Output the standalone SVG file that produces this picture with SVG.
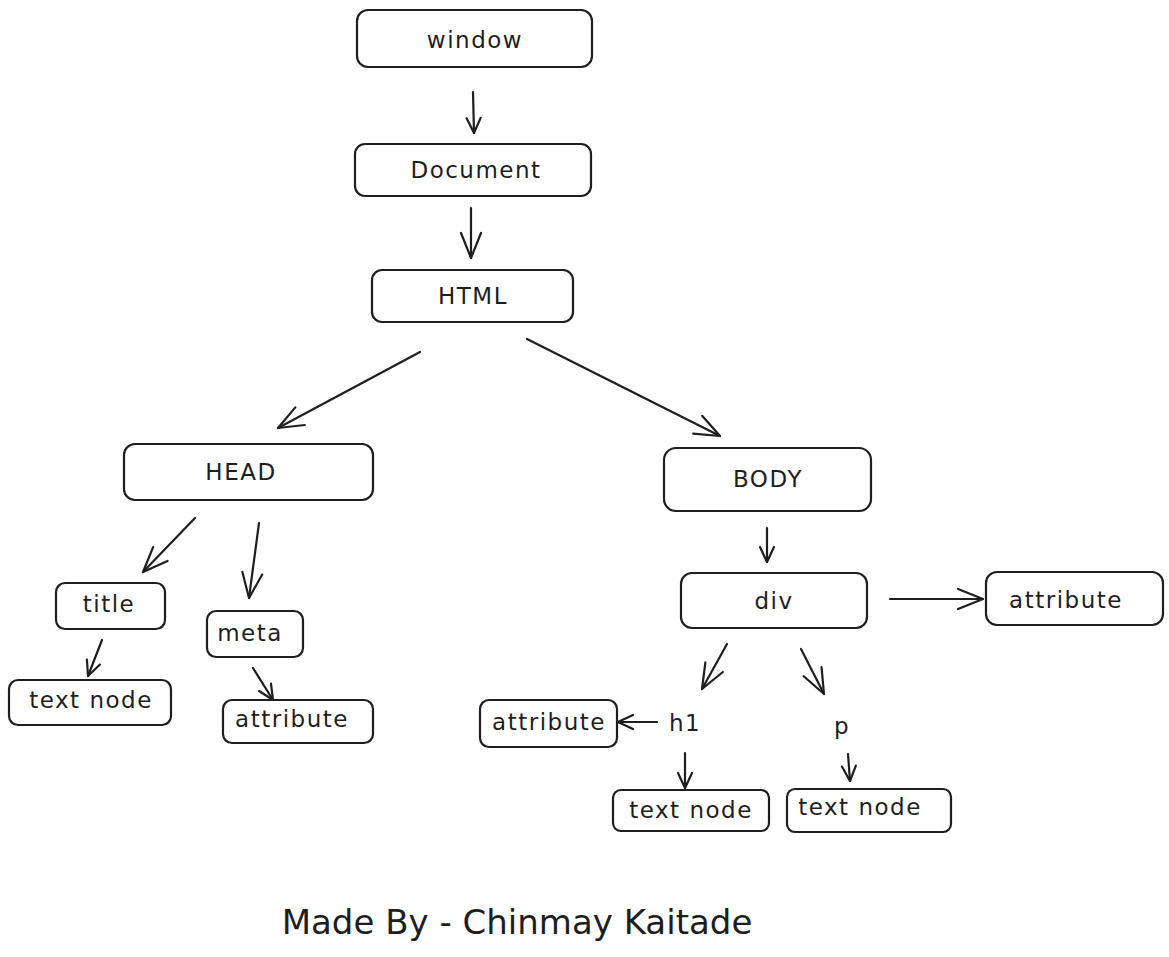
<svg xmlns="http://www.w3.org/2000/svg" width="1169" height="957" viewBox="0 0 1169 957">
<defs>
<style>
.box{fill:#fff;stroke:#1e1e1e;stroke-width:2.2;}
.t{font-family:"DejaVu Sans",sans-serif;font-size:23px;letter-spacing:1.5px;fill:#1e1e1e;text-anchor:middle;dominant-baseline:central;}
.c{stroke:#1e1e1e;stroke-width:2.2;fill:none;stroke-linecap:round;}
</style>
<marker id="ah" viewBox="0 0 20 20" refX="18" refY="10" markerWidth="20" markerHeight="20" markerUnits="userSpaceOnUse" orient="auto">
<path d="M3,3 L18,10 L3,17" fill="none" stroke="#1e1e1e" stroke-width="2.2" stroke-linecap="round" stroke-linejoin="round"/>
</marker>
<marker id="ahL" viewBox="0 0 30 30" refX="28" refY="15" markerWidth="30" markerHeight="30" markerUnits="userSpaceOnUse" orient="auto">
<path d="M3,5 L28,15 L3,25" fill="none" stroke="#1e1e1e" stroke-width="2.2" stroke-linecap="round" stroke-linejoin="round"/>
</marker>
</defs>
<rect width="1169" height="957" fill="#fff"/>

<g id="connectors">
<line class="c" x1="473" y1="92" x2="474" y2="133" marker-end="url(#ah)"/>
<line class="c" x1="471" y1="208" x2="471" y2="258" marker-end="url(#ahL)"/>
<line class="c" x1="420" y1="352" x2="278" y2="428" marker-end="url(#ahL)"/>
<line class="c" x1="527" y1="339" x2="720" y2="436" marker-end="url(#ahL)"/>
<line class="c" x1="195" y1="518" x2="143" y2="572" marker-end="url(#ahL)"/>
<line class="c" x1="259" y1="523" x2="249" y2="598" marker-end="url(#ahL)"/>
<line class="c" x1="102" y1="640" x2="88" y2="676" marker-end="url(#ah)"/>
<line class="c" x1="253" y1="668" x2="273" y2="700" marker-end="url(#ah)"/>
<line class="c" x1="767" y1="528" x2="767" y2="562" marker-end="url(#ah)"/>
<line class="c" x1="890" y1="599" x2="983" y2="599" marker-end="url(#ahL)"/>
<line class="c" x1="727" y1="644" x2="702" y2="689" marker-end="url(#ahL)"/>
<line class="c" x1="801" y1="649" x2="824" y2="694" marker-end="url(#ahL)"/>
<line class="c" x1="657" y1="722" x2="618" y2="722" marker-end="url(#ah)"/>
<line class="c" x1="685" y1="753" x2="685" y2="788" marker-end="url(#ah)"/>
<line class="c" x1="848" y1="754" x2="850" y2="781" marker-end="url(#ah)"/>
</g>

<g id="window"><rect class="box" x="357" y="10" width="235" height="57" rx="11"/><text class="t" x="475" y="40">window</text></g>
<g id="document"><rect class="box" x="355" y="144" width="236" height="52" rx="10"/><text class="t" x="476" y="170">Document</text></g>
<g id="html"><rect class="box" x="372" y="270" width="201" height="52" rx="10"/><text class="t" x="473" y="296">HTML</text></g>
<g id="head"><rect class="box" x="124" y="444" width="249" height="56" rx="11"/><text class="t" x="241" y="472">HEAD</text></g>
<g id="body"><rect class="box" x="664" y="448" width="207" height="63" rx="12"/><text class="t" x="768" y="479">BODY</text></g>
<g id="title"><rect class="box" x="56" y="583" width="109" height="46" rx="9"/><text class="t" x="109" y="604">title</text></g>
<g id="meta"><rect class="box" x="207" y="611" width="96" height="46" rx="9"/><text class="t" x="250" y="633">meta</text></g>
<g id="title-text"><rect class="box" x="9" y="680" width="162" height="45" rx="9"/><text class="t" x="91" y="700">text node</text></g>
<g id="meta-attribute"><rect class="box" x="223" y="700" width="150" height="43" rx="9"/><text class="t" x="292" y="719">attribute</text></g>
<g id="div"><rect class="box" x="681" y="573" width="186" height="55" rx="11"/><text class="t" x="774" y="601">div</text></g>
<g id="div-attribute"><rect class="box" x="986" y="572" width="177" height="53" rx="11"/><text class="t" x="1066" y="600">attribute</text></g>
<g id="h1-attribute"><rect class="box" x="480" y="700" width="137" height="47" rx="9"/><text class="t" x="549" y="722">attribute</text></g>
<g id="h1"><text class="t" x="685" y="723">h1</text></g>
<g id="p"><text class="t" x="842" y="726">p</text></g>
<g id="h1-text"><rect class="box" x="613" y="790" width="156" height="41" rx="8"/><text class="t" x="691" y="810">text node</text></g>
<g id="p-text"><rect class="box" x="787" y="789" width="164" height="43" rx="8"/><text class="t" x="860" y="807">text node</text></g>

<g id="footer"><text class="t" x="517" y="922" style="font-size:34px;letter-spacing:0">Made By - Chinmay Kaitade</text></g>
</svg>
